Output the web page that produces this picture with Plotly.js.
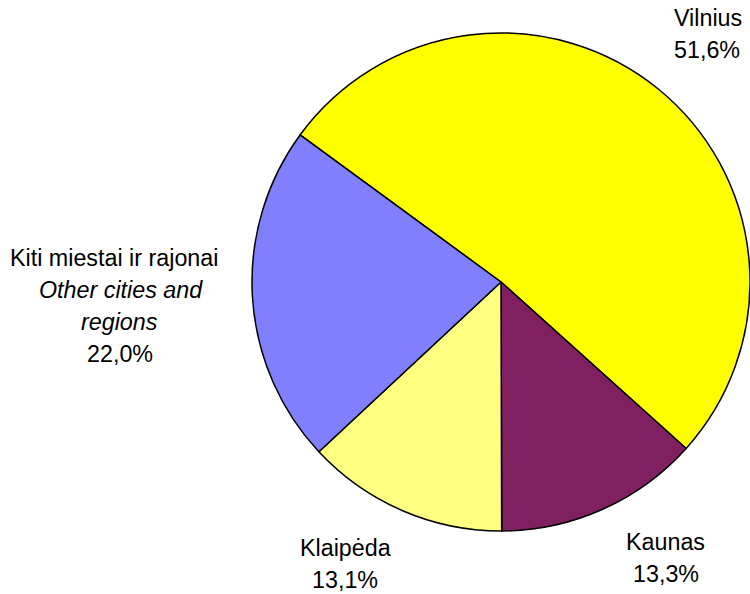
<!DOCTYPE html>
<html>
<head>
<meta charset="utf-8">
<script src="https://cdn.plot.ly/plotly-3.0.1.min.js"></script>
<style>html,body{margin:0;padding:0;background:#fff;}#chart{width:750px;height:594px;}</style>
</head>
<body>
<div id="chart"></div>
<script>
// ---- data ----
const categories = ['Vilnius', 'Kaunas', 'Klaipėda', 'Kiti miestai ir rajonai'];
const categoriesEn = ['', '', '', 'Other cities and<br>regions'];
const shares = [51.6, 13.3, 13.1, 22.0];
const colors = ['#FFFF00', '#802060', '#FFFF80', '#8080FF'];

// ---- layout helpers (positions in pixels) ----
const W = 750, H = 594;
const lineGap = 32;
// per slice: list of line centre x, and y of first line centre
const labelPos = [
  {xs: [708, 707], y0: 18},
  {xs: [665, 666], y0: 542},
  {xs: [345, 345], y0: 548},
  {xs: [114, 121, 119, 120], y0: 258}
];

const fmt = v => v.toFixed(1).replace('.', ',') + '%';

const annotations = [];
categories.forEach((c, i) => {
  const lines = [{t: c, it: false}];
  if (categoriesEn[i]) categoriesEn[i].split('<br>').forEach(s => lines.push({t: s, it: true}));
  lines.push({t: fmt(shares[i]), it: false});
  lines.forEach((ln, k) => {
    const p = labelPos[i];
    const xpx = p.xs[Math.min(k, p.xs.length - 1)];
    const ypx = p.y0 + k * lineGap;
    annotations.push({
      xref: 'paper', yref: 'paper',
      x: xpx / W, y: 1 - ypx / H,
      xanchor: 'center', yanchor: 'middle',
      text: ln.it ? '<i>' + ln.t + '</i>' : ln.t,
      showarrow: false,
      font: {family: 'Liberation Sans, Arial, sans-serif', size: 23.3, color: '#000'}
    });
  });
});

const trace = {
  type: 'pie',
  labels: categories,
  values: shares,
  sort: false,
  direction: 'clockwise',
  rotation: -53.8,
  marker: {colors: colors, line: {color: '#000', width: 1.5}},
  textinfo: 'none',
  hoverinfo: 'label+percent',
  showlegend: false,
  domain: {x: [252 / W, 1], y: [(H - 282 - 260) / H, (H - 282 + 260) / H]}
};

const layout = {
  width: W, height: H,
  margin: {l: 0, r: 0, t: 0, b: 0},
  paper_bgcolor: '#fff',
  plot_bgcolor: '#fff',
  showlegend: false,
  annotations: annotations
};

Plotly.newPlot('chart', [trace], layout, {displayModeBar: false, staticPlot: true});
</script>
</body>
</html>
